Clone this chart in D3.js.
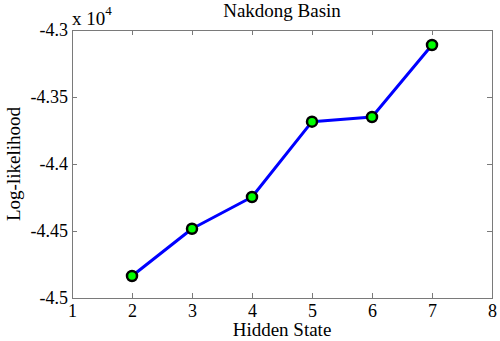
<!DOCTYPE html>
<html>
<head>
<meta charset="utf-8">
<script src="https://cdn.jsdelivr.net/npm/d3@7"></script>
<style>
  html, body { margin: 0; padding: 0; background: #fff; }
  svg { display: block; }
  svg text { font-family: "Liberation Serif", "Times New Roman", serif !important; fill: #000; }
</style>
</head>
<body>
<svg id="chart" width="500" height="341"></svg>
<script>
// Log-likelihood by number of hidden states (values in units of 10^4)
const hiddenStates = [2, 3, 4, 5, 6, 7];
const logLikelihood = [-4.4836, -4.4483, -4.4246, -4.3684, -4.3649, -4.3112];
const xTicks = [1, 2, 3, 4, 5, 6, 7, 8];
const yTicks = [-4.5, -4.45, -4.4, -4.35, -4.3];
const yTickLabels = ["-4.5", "-4.45", "-4.4", "-4.35", "-4.3"];

const svg = d3.select("#chart");
const plotLeft = 72, plotRight = 492, plotTop = 30, plotBottom = 298;
const axisColor = "#7a7a7a";
const serif = "'Liberation Serif', 'Times New Roman', serif";

const x = d3.scaleLinear().domain([1, 8]).range([plotLeft, plotRight]);
const y = d3.scaleLinear().domain([-4.5, -4.3]).range([plotBottom, plotTop]);

// box
svg.append("rect")
  .attr("x", plotLeft).attr("y", plotTop)
  .attr("width", plotRight - plotLeft).attr("height", plotBottom - plotTop)
  .attr("fill", "none").attr("stroke", axisColor).attr("stroke-width", 1)
  .attr("shape-rendering", "crispEdges");

// inward ticks on all four sides
const tickLen = 5;
const xAxisB = d3.axisBottom(x).tickValues(xTicks).tickSizeInner(-tickLen).tickSizeOuter(0).tickPadding(6).tickFormat(d3.format("d"));
const gB = svg.append("g").attr("transform", `translate(0,${plotBottom})`).call(xAxisB)
  .attr("font-family", serif).attr("font-size", 18);
gB.select(".domain").remove();
gB.selectAll("line").attr("stroke", axisColor).attr("shape-rendering", "crispEdges");
gB.selectAll("text").style("font-family", serif).style("font-size", "18px").attr("fill", "#000");

const gT = svg.append("g").attr("transform", `translate(0,${plotTop})`)
  .call(d3.axisTop(x).tickValues(xTicks).tickSizeInner(-tickLen).tickSizeOuter(0).tickFormat(""));
gT.select(".domain").remove();
gT.selectAll("line").attr("stroke", axisColor).attr("shape-rendering", "crispEdges");

const yAxisL = d3.axisLeft(y).tickValues(yTicks).tickSizeInner(-tickLen).tickSizeOuter(0).tickPadding(4)
  .tickFormat((d, i) => yTickLabels[i]);
const gL = svg.append("g").attr("transform", `translate(${plotLeft},0)`).call(yAxisL)
  .attr("font-family", serif).attr("font-size", 18);
gL.select(".domain").remove();
gL.selectAll("line").attr("stroke", axisColor).attr("shape-rendering", "crispEdges");
gL.selectAll("text").style("font-family", serif).style("font-size", "18px").attr("fill", "#000");

const gR = svg.append("g").attr("transform", `translate(${plotRight},0)`)
  .call(d3.axisRight(y).tickValues(yTicks).tickSizeInner(-tickLen).tickSizeOuter(0).tickFormat(""));
gR.select(".domain").remove();
gR.selectAll("line").attr("stroke", axisColor).attr("shape-rendering", "crispEdges");

// exponent multiplier
const mult = svg.append("text").attr("x", plotLeft).attr("y", 25).style("font-size", "19px");
mult.append("tspan").text("x 10");
mult.append("tspan").attr("dy", -10).style("font-size", "13px").text("4");

// title and axis labels
svg.append("text").attr("x", 282).attr("y", 17).attr("text-anchor", "middle")
  .style("font-size", "19px").text("Nakdong Basin");
svg.append("text").attr("x", 282).attr("y", 336).attr("text-anchor", "middle")
  .style("font-size", "19px").text("Hidden State");
svg.append("text").attr("transform", "translate(20,164) rotate(-90)").attr("text-anchor", "middle")
  .style("font-size", "19px").text("Log-likelihood");

// series line
const line = d3.line().x((d, i) => x(hiddenStates[i])).y(d => y(d));
svg.append("path").datum(logLikelihood)
  .attr("d", line).attr("fill", "none")
  .attr("stroke", "#0000ff").attr("stroke-width", 3).attr("stroke-linejoin", "round");

// markers
svg.selectAll("circle.pt").data(logLikelihood).enter().append("circle")
  .attr("class", "pt")
  .attr("cx", (d, i) => x(hiddenStates[i])).attr("cy", d => y(d))
  .attr("r", 5).attr("fill", "#00ff00").attr("stroke", "#000").attr("stroke-width", 2.5);
</script>
</body>
</html>
